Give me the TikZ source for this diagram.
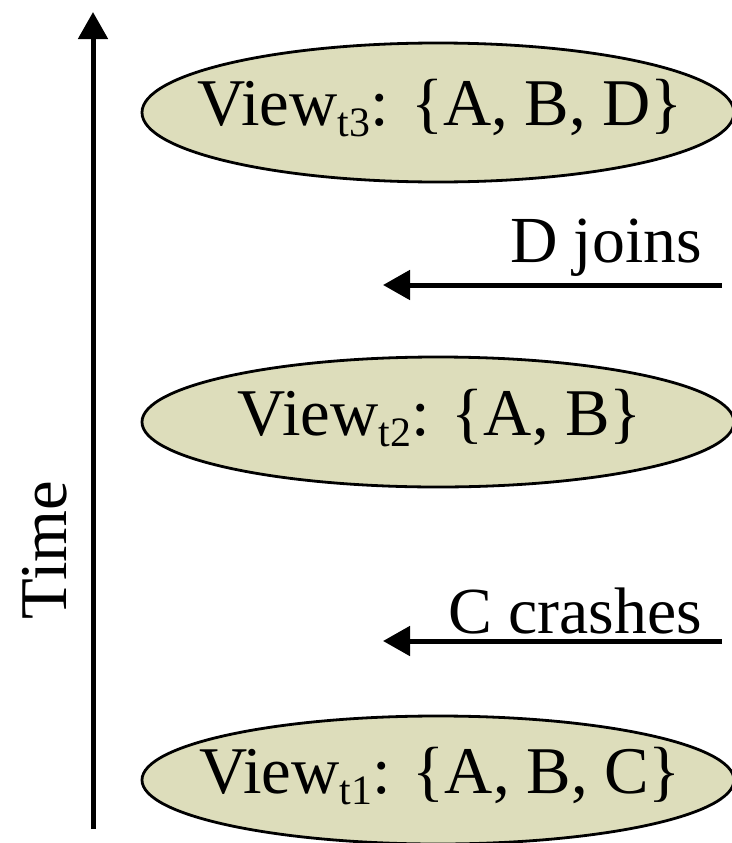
\documentclass[tikz,border=0pt]{standalone}
\usepackage{fontspec}
\setmainfont{Liberation Serif}
\usetikzlibrary{arrows.meta,shapes.geometric}
\definecolor{viewfill}{RGB}{221,221,187}
\newcommand\viewsub[1]{\raisebox{-0.16em}{\fontsize{42}{42}\selectfont #1}}
\begin{document}
\begin{tikzpicture}[x=1bp,y=-1bp,
  view/.style={ellipse, draw, line width=2.8bp, fill=viewfill, minimum width=592bp, inner sep=0pt},
  vtext/.style={inner sep=0pt, font=\fontsize{67}{70}\selectfont},
  lbl/.style={anchor=base east, inner sep=0pt, font=\fontsize{66}{70}\selectfont},
  arr/.style={line width=5bp, -{Triangle[length=27bp,width=29bp]}}]
\useasboundingbox (0,0) rectangle (732,843);
% time axis
\coordinate (tb) at (93,829);
\coordinate (tt) at (93,12);
\draw[arr] (tb) -- (tt);
\node[rotate=90, inner sep=0pt, font=\fontsize{67}{70}\selectfont] (time) at (45,550) {Time};
% views
\node[view, minimum height=139bp] (v3) at (438,112.5) {};
\node[vtext] (v3t) at (440,108) {View\viewsub{t3}: \{A, B, D\}};
\node[view, minimum height=130bp] (v2) at (438,422) {};
\node[vtext] (v2t) at (440,418) {View\viewsub{t2}: \{A, B\}};
\node[view, minimum height=128bp] (v1) at (438,780) {};
\node[vtext] (v1t) at (440,776) {View\viewsub{t1}: \{A, B, C\}};
% events
\coordinate (dj1) at (722,285);
\coordinate (dj2) at (383,285);
\draw[arr] (dj1) -- (dj2);
\node[lbl] (dj) at (702,262) {D joins};
\coordinate (cc1) at (722,641);
\coordinate (cc2) at (383,641);
\draw[arr] (cc1) -- (cc2);
\node[lbl] (cc) at (702,633) {C crashes};
\end{tikzpicture}
\end{document}
